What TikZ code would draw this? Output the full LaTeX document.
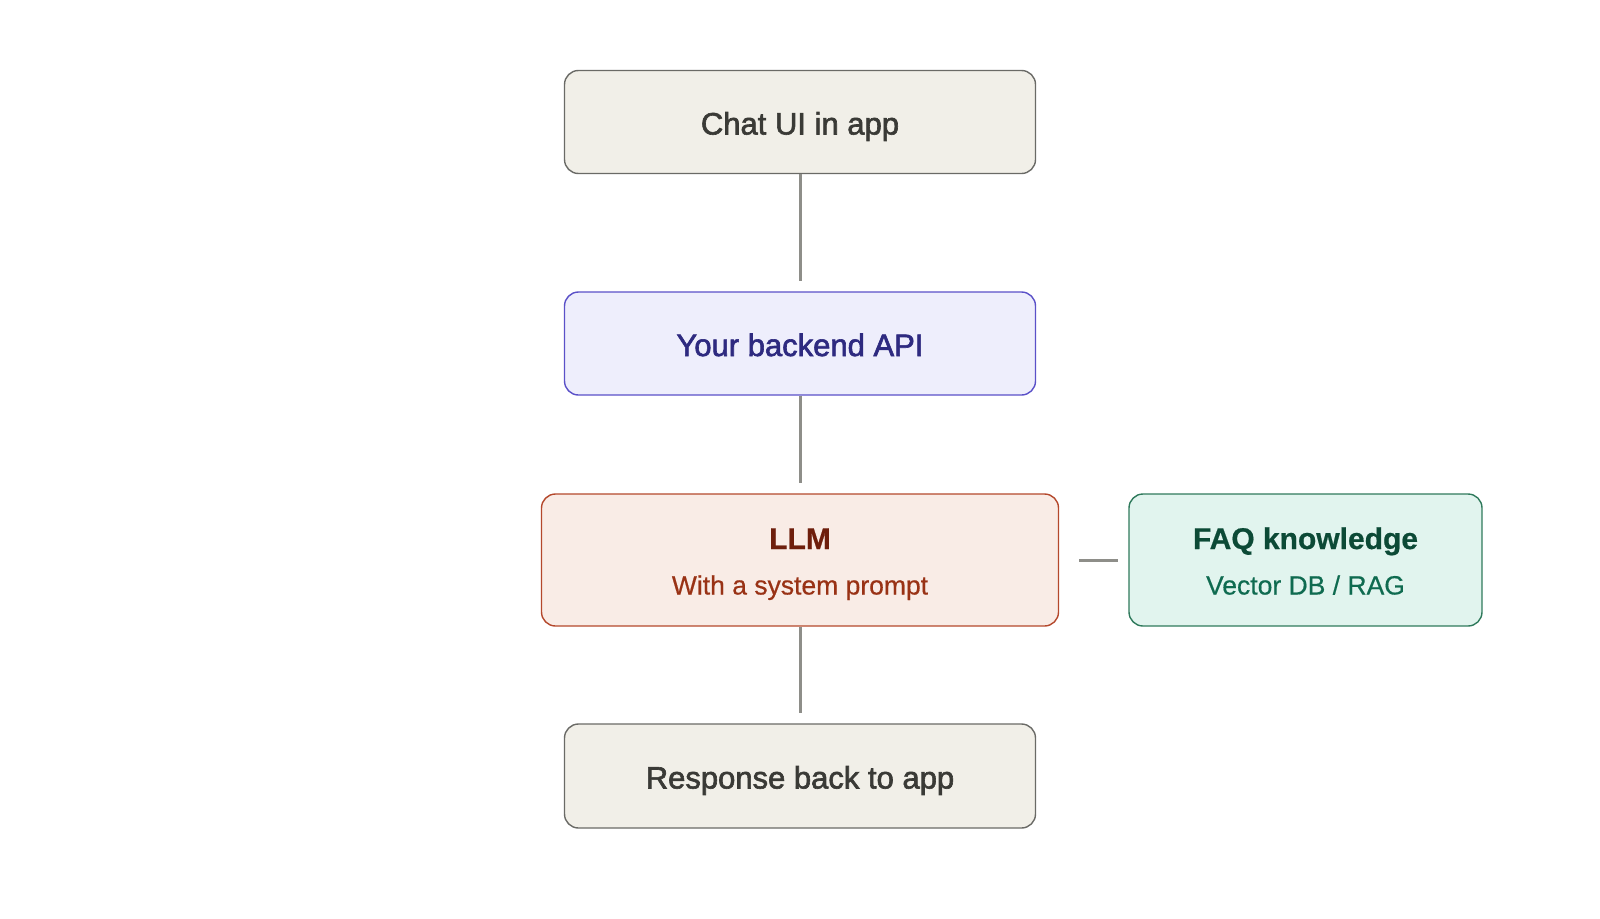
\documentclass[tikz,border=0pt]{standalone}
\usepackage{fontspec}
\setmainfont{Liberation Sans}
\newfontfamily\medfont[FakeBold=2.0]{Liberation Sans}
\newfontfamily\ttlfont[FakeBold=0.6]{Liberation Sans Bold}
\newfontfamily\subfont[FakeBold=0.5]{Liberation Sans}
\definecolor{linec}{HTML}{8E8E89}
\definecolor{greyfill}{HTML}{F1EFE8}
\definecolor{greydraw}{HTML}{6A6A66}
\definecolor{greytext}{HTML}{3A3A36}
\definecolor{purfill}{HTML}{EEEEFC}
\definecolor{purdraw}{HTML}{5A50C8}
\definecolor{purtext}{HTML}{2E2A80}
\definecolor{redfill}{HTML}{F9ECE6}
\definecolor{reddraw}{HTML}{B4482C}
\definecolor{redtitle}{HTML}{6E1E0C}
\definecolor{redsub}{HTML}{993215}
\definecolor{grnfill}{HTML}{E1F4EE}
\definecolor{grndraw}{HTML}{2F7A5C}
\definecolor{grntitle}{HTML}{0C4A36}
\definecolor{grnsub}{HTML}{0F6B50}
\tikzset{
  box/.style={rectangle, rounded corners=14pt, line width=1.4pt, inner sep=0pt},
  mainlbl/.style={font=\medfont\fontsize{31}{36}\selectfont, text height=25pt, text depth=0pt},
  ttl/.style={font=\ttlfont\fontsize{30}{34}\selectfont, inner sep=0pt, anchor=base},
  sub/.style={font=\subfont\fontsize{26.5}{31}\selectfont, inner sep=0pt, anchor=base},
  conn/.style={draw=linec, line width=3pt}
}
\begin{document}
\begin{tikzpicture}[x=1pt,y=-1pt]
\useasboundingbox (0,0) rectangle (1600,918);
\node[box, mainlbl, fill=greyfill, draw=greydraw, text=greytext, minimum width=471pt, minimum height=103pt] (chat) at (800,122) {Chat UI in app};
\node[box, mainlbl, fill=purfill, draw=purdraw, text=purtext, minimum width=471pt, minimum height=103pt] (api) at (800,343.5) {Your backend API};
\node[box, fill=redfill, draw=reddraw, minimum width=517pt, minimum height=132pt] (llm) at (800,560) {};
\node[ttl, text=redtitle] (llmT) at (800,549) {LLM};
\node[sub, text=redsub] (llmS) at (800,594.5) {With a system prompt};
\node[box, fill=grnfill, draw=grndraw, minimum width=353pt, minimum height=132pt] (faq) at (1305.5,560) {};
\node[ttl, text=grntitle] (faqT) at (1305.5,549) {FAQ knowledge};
\node[sub, text=grnsub] (faqS) at (1305.5,594.5) {Vector DB / RAG};
\node[box, mainlbl, fill=greyfill, draw=greydraw, text=greytext, minimum width=471pt, minimum height=104pt] (resp) at (800,776) {Response back to app};
\draw[conn, shorten >=10pt] (chat.south) -- (api.north);
\draw[conn, shorten >=10pt] (api.south) -- (llm.north);
\draw[conn, shorten >=10pt] (llm.south) -- (resp.north);
\draw[conn, shorten <=20pt, shorten >=10pt] (llm.east) -- (faq.west);
\end{tikzpicture}
\end{document}
